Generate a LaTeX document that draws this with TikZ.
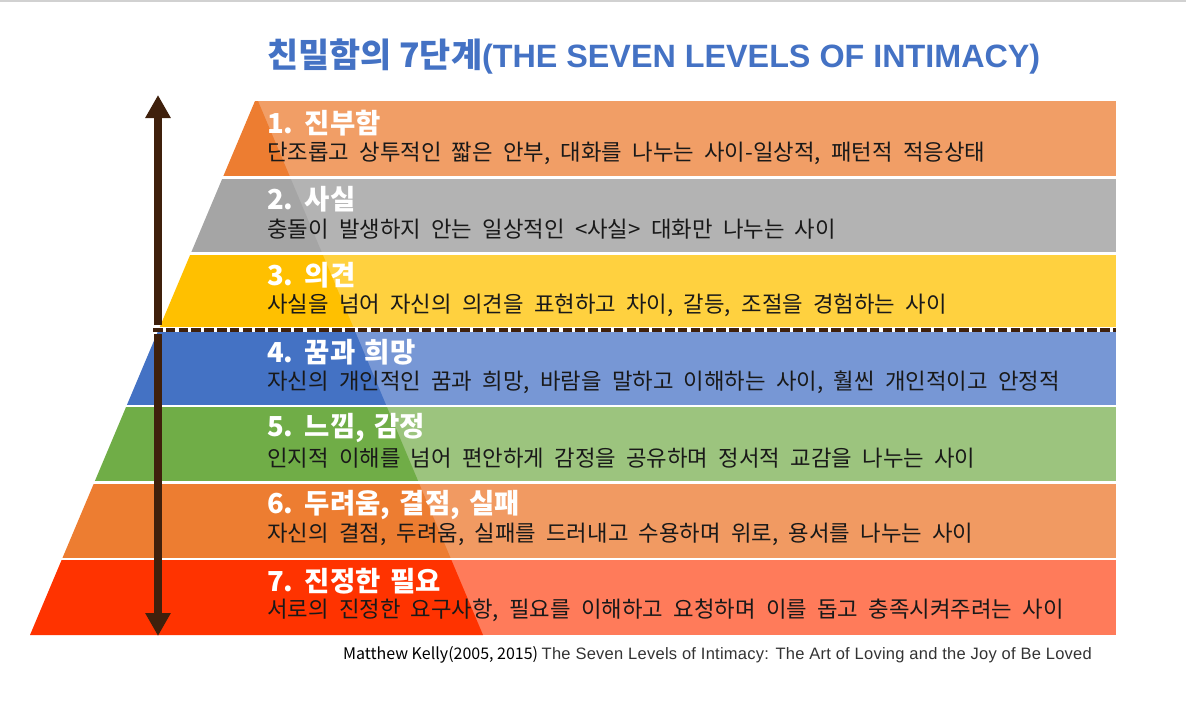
\documentclass[tikz,border=0pt]{standalone}
\usepackage{fontspec}
\setmainfont{Noto Sans CJK KR}
\newfontfamily\latinfont{Liberation Sans}
\newfontfamily\citefont{Liberation Sans}[LetterSpace=1.6]
\usetikzlibrary{arrows.meta}
\definecolor{titleblue}{HTML}{4472C4}
\definecolor{arrowbrown}{HTML}{3F200C}
\definecolor{lvldark1}{HTML}{ED7D31}\definecolor{lvllight1}{HTML}{F19E66}
\definecolor{lvldark2}{HTML}{A5A5A5}\definecolor{lvllight2}{HTML}{B3B3B3}
\definecolor{lvldark3}{HTML}{FFC000}\definecolor{lvllight3}{HTML}{FFD13F}
\definecolor{lvldark4}{HTML}{4472C4}\definecolor{lvllight4}{HTML}{7797D5}
\definecolor{lvldark5}{HTML}{70AD47}\definecolor{lvllight5}{HTML}{9CC47E}
\definecolor{lvldark6}{HTML}{ED7D31}\definecolor{lvllight6}{HTML}{F19A62}
\definecolor{lvldark7}{HTML}{FF3300}\definecolor{lvllight7}{HTML}{FF7B5A}
\newcommand\headfont{\fontsize{27.5}{30}\selectfont\bfseries\spaceskip 9.3pt\relax}
\newcommand\descfont{\fontsize{22.3}{25}\selectfont\spaceskip 10.3pt\relax}
\begin{document}
\begin{tikzpicture}[x=1pt, y=-1pt, line join=round,
	head/.style={anchor=west, inner sep=0pt, text=white, font=\headfont},
	desc/.style={anchor=west, inner sep=0pt, text=black!90, font=\descfont},
	gap/.style={white, line width=2.4pt},
	bigarrow/.style={arrowbrown, line width=7.7pt,
		-{Triangle[width=24pt,length=23pt]}}]
	\useasboundingbox (0,0) rectangle (1186,701);
	\draw[black!18, line width=2pt] (0,1) -- (1186,1);
	\path
	(256.5,97.4) coordinate (apex)
	(30,635) coordinate (baseL)
	(483,635) coordinate (baseR)
	(158,325) coordinate (upS)
	(158,95) coordinate (upE)
	(158,334) coordinate (dnS)
	(158,636) coordinate (dnE)
	;
	% bands and pyramid layers
	\foreach \i in {1,...,7}{
		\pgfmathsetmacro\ytop{101+(\i-1)*76.3}
		\pgfmathsetmacro\ybot{101+\i*76.3}
		\fill[fill=lvllight\i] (256.5,\ytop) rectangle (1116,\ybot);
		\begin{scope}
			\clip (0,\ytop) rectangle (1186,\ybot);
			\fill[fill=lvldark\i] (apex) -- (baseL) -- (baseR) -- cycle;
		\end{scope}
	}
	\foreach \k in {1,2,4,5,6}
	\draw[gap] (0,101+\k*76.3) -- (1116,101+\k*76.3);
	\draw[white, line width=5pt] (0,329.9) -- (1116,329.9);
	\draw[arrowbrown, line width=4pt, dash pattern=on 9.5pt off 3.3pt]
	(153,329.9) -- (1116,329.9);
	\foreach \i/\h/\d in {
		1/{1. 진부함}/{단조롭고 상투적인 짧은 안부, 대화를 나누는 사이-일상적, 패턴적 적응상태},
		2/{2. 사실}/{충돌이 발생하지 안는 일상적인 <사실> 대화만 나누는 사이},
		3/{3. 의견}/{사실을 넘어 자신의 의견을 표현하고 차이, 갈등, 조절을 경험하는 사이},
		4/{4. 꿈과 희망}/{자신의 개인적인 꿈과 희망, 바람을 말하고 이해하는 사이, 훨씬 개인적이고 안정적},
		5/{5. 느낌, 감정}/{인지적 이해를 넘어 편안하게 감정을 공유하며 정서적 교감을 나누는 사이},
		6/{6. 두려움, 결점, 실패}/{자신의 결점, 두려움, 실패를 드러내고 수용하며 위로, 용서를 나누는 사이},
		7/{7. 진정한 필요}/{서로의 진정한 요구사항, 필요를 이해하고 요청하며 이를 돕고 충족시켜주려는 사이}}{
		\pgfmathsetmacro\ytop{101+(\i-1)*76.3}
		\node[head] (head\i) at (267,\ytop+22) {\h};
		\node[desc] (desc\i) at (267,\ytop+52) {\d};
	}
	\draw[bigarrow] (upS) -- (upE);
	\draw[bigarrow] (dnS) -- (dnE);
	\node[anchor=west, inner sep=0pt, text=titleblue,
	font=\fontsize{33.8}{36}\selectfont\bfseries] (title) at (267,57)
	{친밀함의 7단계{\latinfont\fontsize{32.3}{36}\selectfont(THE SEVEN LEVELS OF INTIMACY)}};
	\node[anchor=west, inner sep=0pt, font=\fontsize{16}{18}\selectfont]
	(cite) at (343,655) {Matthew Kelly(2005, 2015) {\citefont\fontsize{16.5}{18}\selectfont
			\color{black!80}The Seven Levels of Intimacy: The Art of Loving and the Joy of Be Loved}};
\end{tikzpicture}
\end{document}
